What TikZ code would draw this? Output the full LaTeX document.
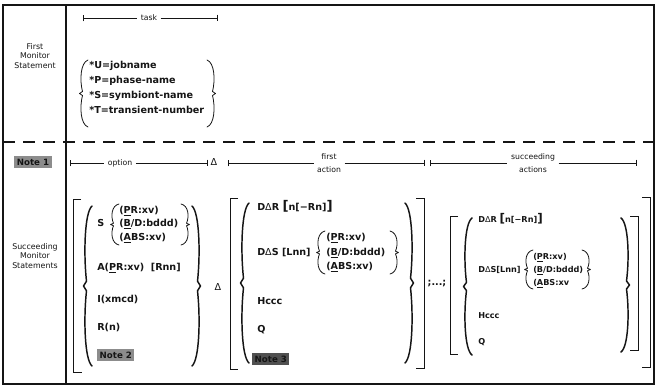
\documentclass[tikz,border=0pt]{standalone}
\usepackage{fontspec}
\setmainfont{DejaVu Sans}
\usepackage{tikz}
\usetikzlibrary{arrows.meta}
\definecolor{inkdark}{HTML}{151515}
\definecolor{notegray}{HTML}{8C8C8C}
\definecolor{notedark}{HTML}{505050}
\newcommand{\tri}{{\mdseries Δ}}

\begin{document}
\begin{tikzpicture}[
  x=0.75pt, y=-0.75pt,
  frame/.style={draw=inkdark, line width=1.1pt},
  sepline/.style={draw=inkdark, line width=1.2pt, dash pattern=on 9pt off 6pt},
  syn/.style={anchor=west, inner sep=0pt, text height=5.6pt, text depth=1.6pt, font=\fontsize{7.2}{8}\selectfont\bfseries, text=inkdark},
  synsmall/.style={syn, text height=4.8pt, text depth=1.4pt, font=\fontsize{6.1}{7}\selectfont\bfseries},
  lab/.style={align=center, inner sep=1pt, font=\fontsize{5.9}{7.3}\selectfont, text=inkdark},
  dimlab/.style={align=center, inner sep=2.5pt, font=\fontsize{5.8}{9.5}\selectfont, text=inkdark},
  dimL/.style={{Bar[width=5pt,line width=0.9pt]}-, line width=0.6pt, draw=inkdark},
  dimR/.style={-{Bar[width=5pt,line width=0.9pt]}, line width=0.6pt, draw=inkdark},
  note/.style={fill=notegray, inner sep=1.8pt, font=\fontsize{6.5}{7}\selectfont\bfseries, text=inkdark},
  brk/.style={draw=inkdark, line width=0.7pt},
  brc/.style={draw=inkdark, line cap=round, line join=round},
  lbr/.pic={\draw[brc] (6,0) .. controls (-1.5,0.04) and (-2.5,0.3) .. (0.5,0.47)
      .. controls (-0.5,0.49) .. (-2.5,0.5) .. controls (-0.5,0.51) .. (0.5,0.53)
      .. controls (-2.5,0.7) and (-1.5,0.96) .. (6,1);}
]
  \fill[white] (0,0) rectangle (657,387);
  \useasboundingbox (0,0) rectangle (657,387);

  % frame and separators
  \draw[frame] (3,5) rectangle (654,384);
  \draw[frame] (66,5) -- (66,384);
  \draw[sepline] (3,142) -- (654,142);

  % first monitor statement
  \node[lab] (first) at (35,56) {First\\Monitor\\Statement};
  \coordinate (tk1) at (83,18);
  \coordinate (tk2) at (218,18);
  \node[dimlab] (task) at (149,18) {task};
  \draw[dimL] (tk1) -- (task);
  \draw[dimR] (task) -- (tk2);

  \pic[yscale=67, line width=0.6pt] at (82,60) {lbr};
  \node[syn] (jobu) at (89,66) {*U=jobname};
  \node[syn] (jobp) at (89,81) {*P=phase-name};
  \node[syn] (jobs) at (89,96) {*S=symbiont-name};
  \node[syn] (jobt) at (89,111) {*T=transient-number};
  \pic[xscale=-1, yscale=67, line width=0.6pt] at (213,60) {lbr};

  % succeeding monitor statements
  \node[note] (note1) at (33,162) {Note 1};
  \node[lab] (succ) at (35,256) {Succeeding\\Monitor\\Statements};

  \coordinate (op1) at (70,163);
  \coordinate (op2) at (208,163);
  \node[dimlab] (opt) at (120,163) {option};
  \draw[dimL] (op1) -- (opt);
  \draw[dimR] (opt) -- (op2);
  \node[syn, anchor=center] (delta0) at (214,163) {\tri};

  \coordinate (fa1) at (228,163);
  \coordinate (fa2) at (425,163);
  \node[dimlab] (fact) at (329,163) {first\\action};
  \draw[dimL] (fa1) -- (fact);
  \draw[dimR] (fact) -- (fa2);

  \coordinate (sa1) at (430,163);
  \coordinate (sa2) at (637,163);
  \node[dimlab] (sact) at (533,163) {succeeding\\actions};
  \draw[dimL] (sa1) -- (sact);
  \draw[dimR] (sact) -- (sa2);

  % option group
  \draw[brk] (81,199) -| (73,372) -- (82,372);
  \pic[yscale=160, line width=1.1pt] at (86,206) {lbr};
  \node[syn] (optS) at (97,224) {S};
  \pic[yscale=41, line width=0.6pt] at (113,204) {lbr};
  \node[syn] (optpr) at (119,211) {(\underline{P}R:xv)};
  \node[syn] (optbd) at (119,224) {(\underline{B}/D:bddd)};
  \node[syn] (optabs) at (119,238) {(\underline{A}BS:xv)};
  \pic[xscale=-1, yscale=41, line width=0.6pt] at (187,204) {lbr};
  \node[syn] (optA) at (97,268) {A(\underline{P}R:xv)\ \ [Rnn]};
  \node[syn] (optI) at (97,300) {I(xmcd)};
  \node[syn] (optR) at (97,328) {R(n)};
  \node[note, anchor=west] (note2) at (97,355) {Note 2};
  \pic[xscale=-1, yscale=160, line width=1.1pt] at (198,206) {lbr};

  \node[syn, anchor=center] (delta1) at (218,288) {\tri};

  % first action group
  \draw[brk] (238,198) -| (230,369) -- (238,369);
  \draw[brk] (416,198) -| (424,368) -- (416,368);
  \pic[yscale=160, line width=1.1pt] at (243,203) {lbr};
  \pic[xscale=-1, yscale=160, line width=1.1pt] at (411,203) {lbr};
  \node[syn] (fdr) at (257,208) {D\tri R {\fontsize{10}{10}\selectfont[}n[−Rn]{\fontsize{10}{10}\selectfont]}};
  \node[syn] (fds) at (257,253) {D\tri S [Lnn]};
  \pic[yscale=43, line width=0.6pt] at (319,231) {lbr};
  \node[syn] (fpr) at (326,238) {(\underline{P}R:xv)};
  \node[syn] (fbd) at (326,253) {(\underline{B}/D:bddd)};
  \node[syn] (fabs) at (326,267) {(\underline{A}BS:xv)};
  \pic[xscale=-1, yscale=43, line width=0.6pt] at (396,231) {lbr};
  \node[syn] (fh) at (257,302) {Hccc};
  \node[syn] (fq) at (257,330) {Q};
  \node[note, anchor=west, fill=notedark] (note3) at (252,359) {Note 3};

  \node[syn, anchor=center] (etc) at (437,283) {;...;};

  % succeeding actions group
  \draw[brk] (458,216) -| (450,354) -- (458,354);
  \draw[brk] (630,216) -| (638,350) -- (630,350);
  \draw[brk] (642,197) -| (650,367) -- (642,367);
  \pic[yscale=137, line width=1.1pt] at (466,218) {lbr};
  \pic[xscale=-1, yscale=134, line width=1.1pt] at (627,218) {lbr};
  \node[synsmall] (sdr) at (478,220) {D\tri R {\fontsize{9}{9}\selectfont[}n[−Rn]{\fontsize{9}{9}\selectfont]}};
  \node[synsmall] (sds) at (478,270) {D\tri S[Lnn]};
  \pic[yscale=39, line width=0.6pt] at (527,250) {lbr};
  \node[synsmall] (spr) at (533,257) {(\underline{P}R:xv)};
  \node[synsmall] (sbd) at (533,270) {(\underline{B}/D:bddd)};
  \node[synsmall] (sabs) at (533,283) {(\underline{A}BS:xv};
  \pic[xscale=-1, yscale=39, line width=0.6pt] at (588,250) {lbr};
  \node[synsmall] (sh) at (478,316) {Hccc};
  \node[synsmall] (sq) at (478,342) {Q};
\end{tikzpicture}
\end{document}
